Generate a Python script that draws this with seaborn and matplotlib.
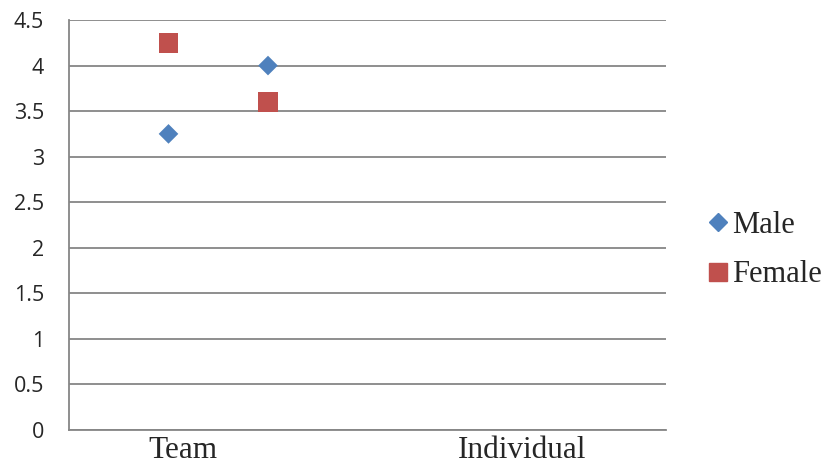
import matplotlib
matplotlib.use("Agg")
import matplotlib.pyplot as plt
from matplotlib.lines import Line2D
import seaborn as sns
import pandas as pd

# Mean scores by group and gender
positions = [1, 2]
male_scores = [3.25, 4.0]
female_scores = [4.25, 3.6]
category_labels = ["Team", "Individual"]
category_ticks = [1.15, 4.55]
y_ticks = [0, 0.5, 1, 1.5, 2, 2.5, 3, 3.5, 4, 4.5]

df = pd.DataFrame({
    "x": positions * 2,
    "score": male_scores + female_scores,
    "gender": ["Male"] * len(male_scores) + ["Female"] * len(female_scores),
})

sns.set_style("white")
fig = plt.figure(figsize=(8.27, 4.68), dpi=100)
ax = fig.add_axes([69 / 827, 1 - 430 / 468, (666 - 69) / 827, (430 - 20) / 468])

grid_col = "#868686"
sns.scatterplot(
    data=df, x="x", y="score", hue="gender", style="gender",
    markers={"Male": "D", "Female": "s"},
    palette={"Male": "#4F81BD", "Female": "#C0504D"},
    size="gender", sizes={"Male": 100, "Female": 200},
    linewidth=0, ax=ax, legend=False, zorder=3,
)

ax.set_xlim(0, 6)
ax.set_ylim(0, 4.5)
ax.set_yticks(y_ticks)
ax.set_yticklabels([f"{v:g}" for v in y_ticks], fontfamily="Open Sans", fontsize=15.5)
ax.set_xticks(category_ticks)
ax.set_xticklabels(category_labels, fontfamily="Liberation Serif", fontsize=22.5)
ax.set_xlabel("")
ax.set_ylabel("")

for v in y_ticks:
    ax.axhline(v, color=grid_col, lw=1.3, zorder=1)

for side in ["top", "right"]:
    ax.spines[side].set_visible(False)
for side in ["left", "bottom"]:
    ax.spines[side].set_color(grid_col)
    ax.spines[side].set_linewidth(1.3)

ax.tick_params(axis="y", length=6, width=1.3, color=grid_col, pad=12)
ax.tick_params(axis="x", length=0, pad=4)

# Legend on the right
handles = [
    Line2D([], [], marker="D", color="#4F81BD", linestyle="none", markersize=9),
    Line2D([], [], marker="s", color="#C0504D", linestyle="none", markersize=13),
]
fig.legend(
    handles, ["Male", "Female"], loc="center left",
    bbox_to_anchor=(697 / 827, 1 - 250 / 468),
    frameon=False, handlelength=0.8, handletextpad=0.05, labelspacing=0.68,
    borderaxespad=0, borderpad=0.3,
    prop={"family": "Liberation Serif", "size": 22},
)

fig.savefig("out.png", dpi=100)
